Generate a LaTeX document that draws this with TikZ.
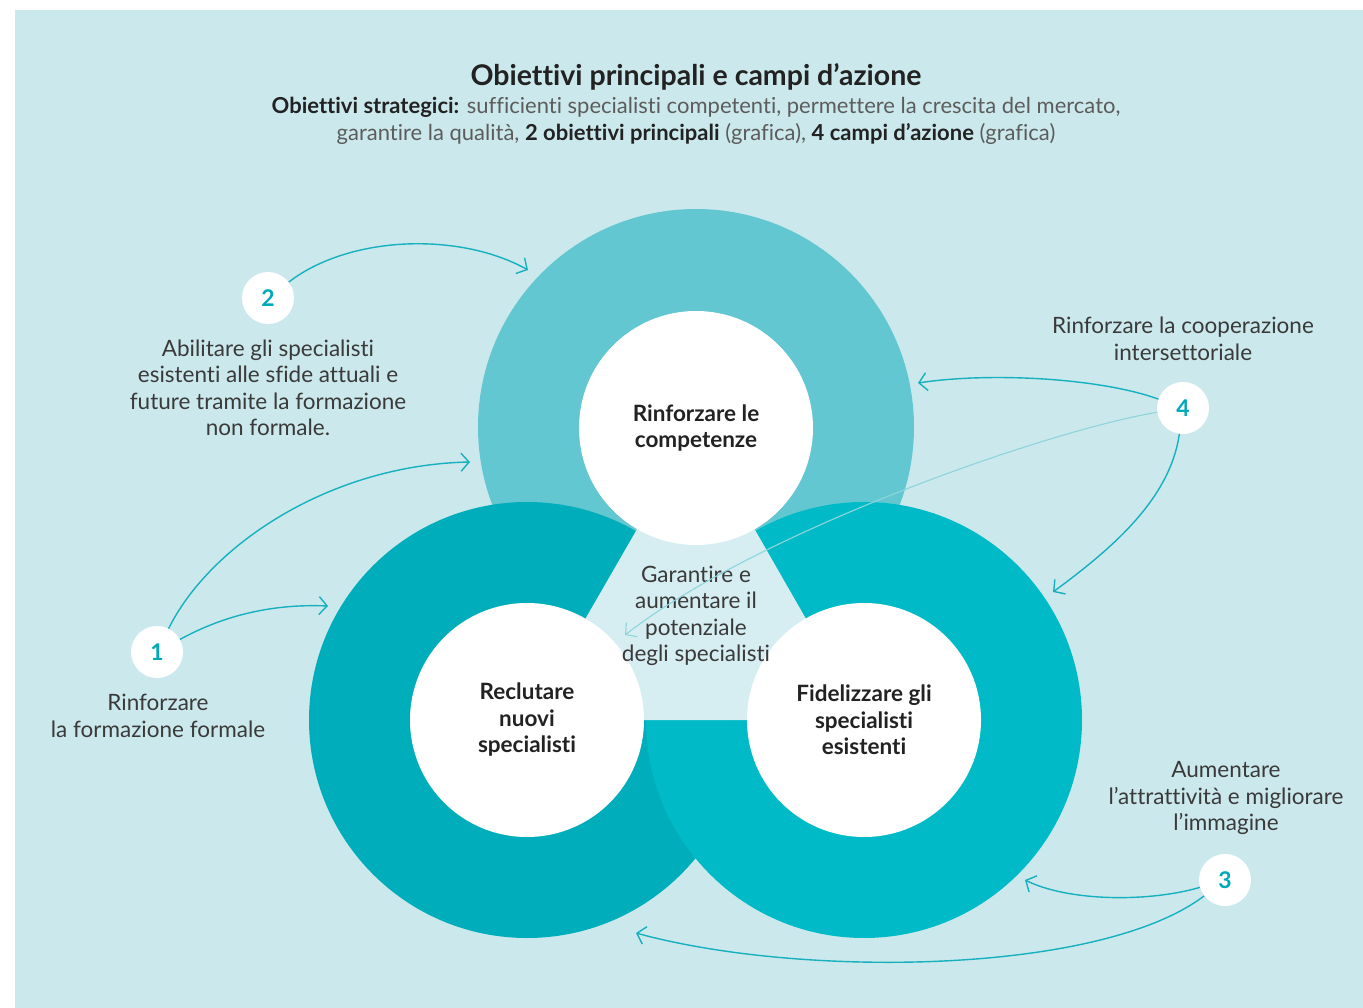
\documentclass[tikz,border=0pt]{standalone}
\usepackage{fontspec}
\setmainfont{Lato}[Ligatures=NoCommon]
\usetikzlibrary{arrows.meta}
\definecolor{sfondo}{HTML}{CBE9EC}
\definecolor{centro}{HTML}{D6EEF1}
\definecolor{alto}{HTML}{62C7D1}
\definecolor{sinistra}{HTML}{00AEBB}
\definecolor{destra}{HTML}{00BBC7}
\definecolor{linea}{HTML}{17B0BF}
\definecolor{lineachiara}{HTML}{8ED4DC}
\definecolor{cifra}{HTML}{00A9B8}
\definecolor{scuro}{HTML}{222222}
\definecolor{grigio}{HTML}{3A3A3A}
\definecolor{grigiochiaro}{HTML}{5C5C5C}
\begin{document}
\begin{tikzpicture}[x=1pt,y=-1pt,
                        testo/.style={font=\fontsize{22.5}{26.5}\selectfont, text=grigio, align=center},
                        anello/.style={circle, minimum size=436pt, inner sep=0pt},
                        bianco/.style={circle, fill=white, minimum size=234pt, inner sep=0pt,
                                       font=\bfseries\fontsize{22.5}{26.5}\selectfont, text=scuro, align=center},
                        numero/.style={circle, fill=white, minimum size=52pt, inner sep=0pt,
                                       font=\bfseries\fontsize{23}{23}\selectfont, text=cifra},
                        freccia/.style={draw=linea, line width=1.4pt, -{Straight Barb[length=8pt,width=18pt]}},
                        ]
                        %Sfondo
                        \useasboundingbox (0,0) rectangle (1363,1008);
                        \fill [sfondo] (15,10) rectangle (1363,1008);
                        %Titolo
                        \node (titolo) at (696,77) {\fontsize{28.5}{32}\selectfont\bfseries\color{scuro}Obiettivi principali e campi d’azione};
                        \node (sotto) at (696,121) [align=center, font=\fontsize{22}{27}\selectfont, text=grigiochiaro]
                            {\textcolor{scuro}{\bfseries Obiettivi strategici:} sufficienti specialisti competenti, permettere la crescita del mercato,\\
                             garantire la qualità, \textcolor{scuro}{\bfseries 2 obiettivi principali} (grafica), \textcolor{scuro}{\bfseries 4 campi d’azione} (grafica)};
                        %Anelli
                        \node [anello, fill=alto] (ra) at (696,427) {};
                        \node [anello, fill=sinistra] (rs) at (527,720) {};
                        \node [anello, fill=destra] (rd) at (864,720) {};
                        \fill [centro] (ra.center) -- (rs.center) -- (rd.center) -- cycle;
                        %Obiettivi principali
                        \node [bianco] (comp) at (696,428) {Rinforzare le\\competenze};
                        \node [bianco] (recl) at (527,720) {Reclutare\\nuovi\\specialisti};
                        \node [bianco] (fid) at (864,720) {Fidelizzare gli\\specialisti\\esistenti};
                        \node [testo] (pot) at (696,616) {Garantire e\\aumentare il\\potenziale\\degli specialisti};
                        %Campi d'azione
                        \node [numero] (n1) at (157,652) {1};
                        \node [numero] (n2) at (268,298) {2};
                        \node [numero] (n3) at (1225,880) {3};
                        \node [numero] (n4) at (1183,408) {4};
                        \node [testo] (t1) at (158,716) {Rinforzare\\la formazione formale};
                        \node [testo] (t2) at (268,388) {Abilitare gli specialisti\\esistenti alle sfide attuali e\\future tramite la formazione\\non formale.};
                        \node [testo] (t3) at (1226,798) {Aumentare\\l’attrattività e migliorare\\l’immagine};
                        \node [testo] (t4) at (1183,339) {Rinforzare la cooperazione\\intersettoriale};
                        %Punte delle frecce
                        \coordinate (p1a) at (470,462);
                        \coordinate (p1b) at (328,606);
                        \coordinate (p2) at (528,270);
                        \coordinate (p3a) at (1025,880);
                        \coordinate (p3b) at (636,933);
                        \coordinate (p4a) at (918,383);
                        \coordinate (p4b) at (625,635);
                        \coordinate (p4c) at (1053,592);
                        %Frecce
                        \draw [freccia] (n2) .. controls (350,235) and (460,232) .. (p2);
                        \draw [freccia] (n1) .. controls (210,545) and (330,465) .. (p1a);
                        \draw [freccia] (n1) .. controls (230,612) and (280,604) .. (p1b);
                        \draw [freccia] (n4) .. controls (1100,378) and (990,372) .. (p4a);
                        \draw [freccia, draw=lineachiara, line width=1.1pt] (n4) .. controls (1050,430) and (760,530) .. (p4b);
                        \draw [freccia] (n4) .. controls (1170,500) and (1110,550) .. (p4c);
                        \draw [freccia] (n3) .. controls (1150,902) and (1070,902) .. (p3a);
                        \draw [freccia] (n3) .. controls (1100,975) and (800,978) .. (p3b);
                \end{tikzpicture}
\end{document}
